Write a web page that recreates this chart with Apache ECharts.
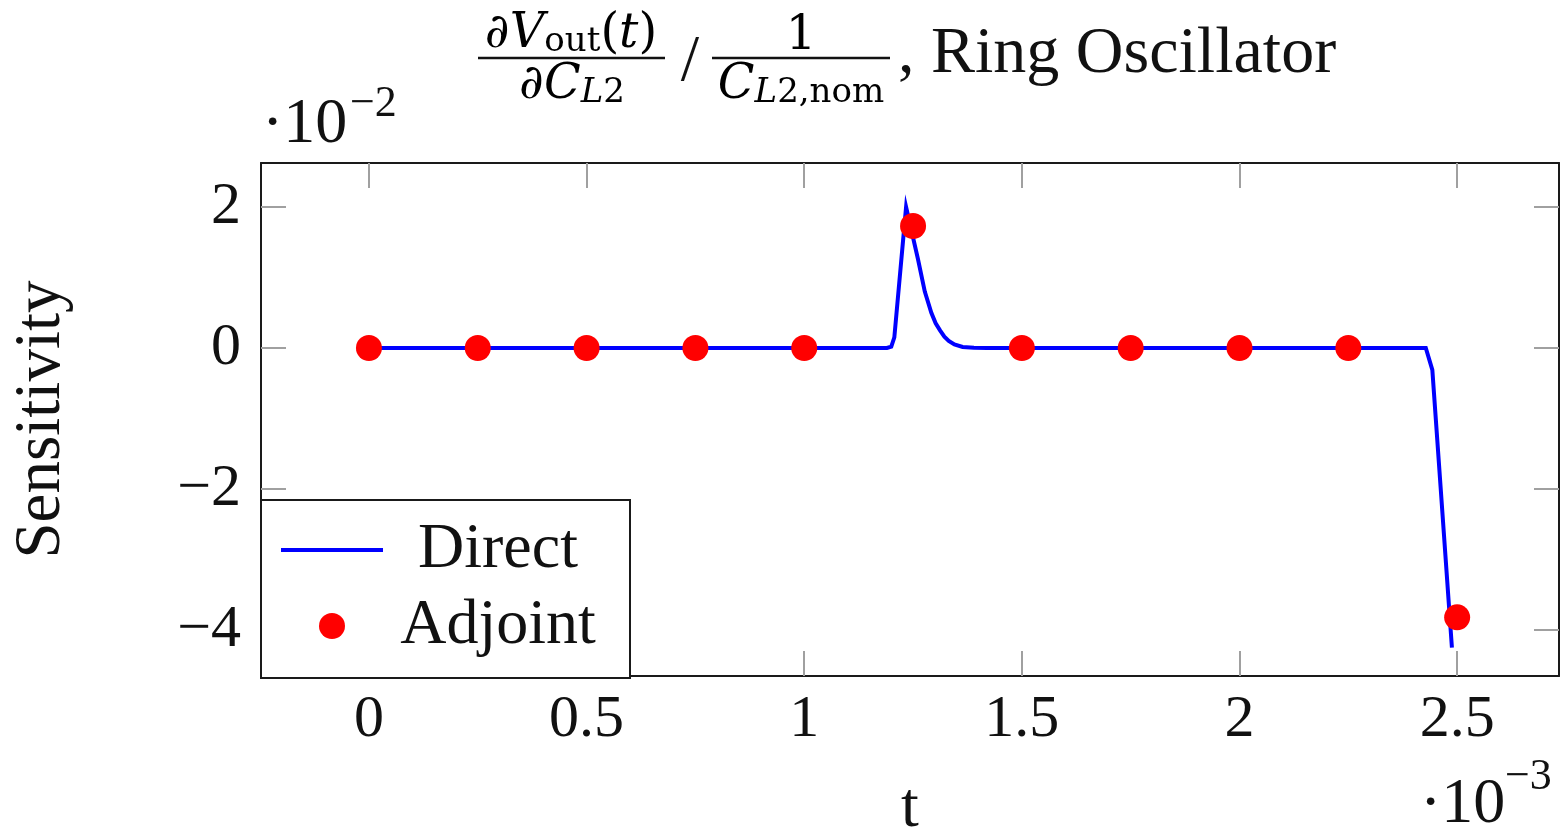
<!DOCTYPE html>
<html>
<head>
<meta charset="utf-8">
<script src="https://cdn.jsdelivr.net/npm/echarts@6/dist/echarts.min.js"></script>
<style>
html,body{margin:0;padding:0;background:#fff;}
#chart{width:1560px;height:830px;}
</style>
</head>
<body>
<div id="chart"></div>
<script>
// t in units of 1e-3, sensitivity in units of 1e-2
const directT = [0, 1.18, 1.19, 1.2, 1.207, 1.234, 1.261, 1.277, 1.292, 1.302, 1.312, 1.322, 1.332, 1.345, 1.364, 1.39, 1.42, 2.428, 2.443, 2.488];
const directV = [0, 0, 0, 0.02, 0.15, 2.0, 1.27, 0.8, 0.5, 0.35, 0.25, 0.16, 0.1, 0.05, 0.015, 0.004, 0, 0, -0.31, -4.25];
const adjointT = [0, 0.25, 0.5, 0.75, 1.0, 1.25, 1.5, 1.75, 2.0, 2.25, 2.5];
const adjointV = [0, 0, 0, 0, 0, 1.73, 0, 0, 0, 0, -3.82];
const xTicks = [0, 0.5, 1, 1.5, 2, 2.5];
const yTicks = [-4, -2, 0, 2];
const seriesNames = ['Direct', 'Adjoint'];

const FONT = 'Liberation Serif';
const MATH = 'DejaVu Serif';
const fmt = v => (v < 0 ? '\u2212' + (-v) : String(v));

const chart = echarts.init(document.getElementById('chart'));

const tickStyle = {show: true, inside: true, length: 25, lineStyle: {color: '#a0a0a0', width: 2}};
const lineAxis = {show: true, onZero: false, lineStyle: {color: '#1a1a1a', width: 2}};

const xBase = {type: 'value', min: -0.248, max: 2.734, splitLine: {show: false}, axisLine: lineAxis};
const yBase = {type: 'value', min: -4.652, max: 2.624, splitLine: {show: false}, axisLine: lineAxis};

const rich = {
  d: {fontFamily: MATH, fontSize: 48, color: '#111', lineHeight: 48},
  i: {fontFamily: MATH, fontSize: 48, fontStyle: 'italic', color: '#111', lineHeight: 48},
  s: {fontFamily: MATH, fontSize: 34, color: '#111', verticalAlign: 'bottom', lineHeight: 22},
  si: {fontFamily: MATH, fontSize: 34, fontStyle: 'italic', color: '#111', verticalAlign: 'bottom', lineHeight: 22}
};

chart.setOption({
  animation: false,
  backgroundColor: '#fff',
  grid: {left: 261, right: 1, top: 163, bottom: 154, containLabel: false, outerBoundsMode: 'none'},
  xAxis: [
    Object.assign({}, xBase, {
      position: 'bottom',
      name: 't', nameLocation: 'middle', nameGap: 101,
      nameTextStyle: {fontFamily: FONT, fontSize: 64, color: '#111'},
      axisTick: Object.assign({customValues: xTicks}, tickStyle),
      axisLabel: {customValues: xTicks, formatter: fmt, fontFamily: FONT, fontSize: 60, color: '#111', margin: 14}
    }),
    Object.assign({}, xBase, {
      position: 'top',
      axisTick: Object.assign({customValues: xTicks}, tickStyle),
      axisLabel: {show: false}
    })
  ],
  yAxis: [
    Object.assign({}, yBase, {
      position: 'left',
      name: 'Sensitivity', nameLocation: 'middle', nameGap: 187, nameRotate: 90,
      nameTextStyle: {fontFamily: FONT, fontSize: 65, color: '#111'},
      axisTick: Object.assign({customValues: yTicks}, tickStyle),
      axisLabel: {customValues: yTicks, formatter: fmt, fontFamily: FONT, fontSize: 60, color: '#111', margin: 20}
    }),
    Object.assign({}, yBase, {
      position: 'right',
      axisTick: Object.assign({customValues: yTicks}, tickStyle),
      axisLabel: {show: false}
    })
  ],
  legend: {
    orient: 'vertical',
    left: 261, top: 500,
    data: [
      {name: seriesNames[0], icon: 'path://M0,0L100,0L100,4L0,4Z'},
      {name: seriesNames[1], icon: 'circle'}
    ],
    backgroundColor: '#fff',
    borderColor: '#1a1a1a', borderWidth: 2,
    padding: [18, 22, 20, 20],
    itemWidth: 102, itemHeight: 26, itemGap: 12,
    formatter: name => '{c|' + name + '}',
    textStyle: {
      fontFamily: FONT, fontSize: 64, color: '#111',
      rich: {c: {fontFamily: FONT, fontSize: 64, color: '#111', width: 220, align: 'center', lineHeight: 64}}
    }
  },
  series: [
    {
      name: seriesNames[0], type: 'line', xAxisIndex: 0, yAxisIndex: 0,
      data: directT.map((t, k) => [t, directV[k]]),
      showSymbol: false, symbol: 'none',
      itemStyle: {color: '#0000ff'},
      lineStyle: {color: '#0000ff', width: 4, join: 'miter', miterLimit: 20},
      z: 2
    },
    {
      name: seriesNames[1], type: 'scatter', xAxisIndex: 0, yAxisIndex: 0,
      data: adjointT.map((t, k) => [t, adjointV[k]]),
      symbol: 'circle', symbolSize: 26,
      itemStyle: {color: '#ff0000', opacity: 1},
      z: 3
    }
  ],
  graphic: [
    // title fraction 1
    {type: 'text', x: 571, y: 35, style: {text: '{d|\u2202}{i|V}{s|out}{d|(}{i|t}{d|)}', rich: rich, align: 'center', verticalAlign: 'middle'}},
    {type: 'line', shape: {x1: 478, y1: 58, x2: 665, y2: 58}, style: {stroke: '#111', lineWidth: 2.5}},
    {type: 'text', x: 572, y: 86, style: {text: '{d|\u2202}{i|C}{si|L}{s|2}', rich: rich, align: 'center', verticalAlign: 'middle'}},
    {type: 'text', x: 690, y: 63, style: {text: '/', fontFamily: FONT, fontSize: 66, fill: '#111', align: 'center', verticalAlign: 'middle'}},
    // fraction 2
    {type: 'text', x: 801, y: 37, style: {text: '{d|1}', rich: rich, align: 'center', verticalAlign: 'middle'}},
    {type: 'line', shape: {x1: 712, y1: 58, x2: 890, y2: 58}, style: {stroke: '#111', lineWidth: 2.5}},
    {type: 'text', x: 801, y: 86, style: {text: '{i|C}{si|L}{s|2,nom}', rich: rich, align: 'center', verticalAlign: 'middle'}},
    {type: 'text', x: 898, y: 55, style: {text: ', Ring Oscillator', fontFamily: FONT, fontSize: 66, fill: '#111', align: 'left', verticalAlign: 'middle'}},
    // exponent labels
    {type: 'text', x: 262, y: 125, style: {text: '\u00b710', fontFamily: FONT, fontSize: 64, fill: '#111', align: 'left', verticalAlign: 'middle'}},
    {type: 'text', x: 350, y: 104, style: {text: '\u22122', fontFamily: FONT, fontSize: 44, fill: '#111', align: 'left', verticalAlign: 'middle'}},
    {type: 'text', x: 1420, y: 805, style: {text: '\u00b710', fontFamily: FONT, fontSize: 64, fill: '#111', align: 'left', verticalAlign: 'middle'}},
    {type: 'text', x: 1505, y: 777, style: {text: '\u22123', fontFamily: FONT, fontSize: 44, fill: '#111', align: 'left', verticalAlign: 'middle'}}
  ]
});
</script>
</body>
</html>
